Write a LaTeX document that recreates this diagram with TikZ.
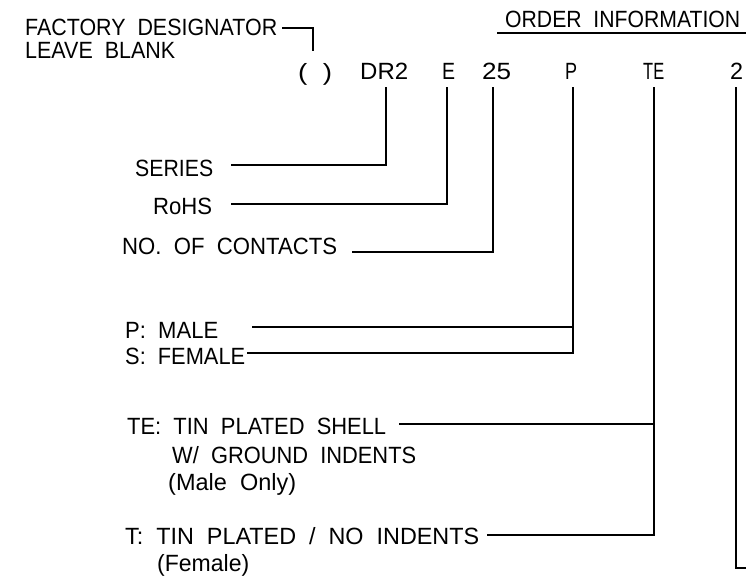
\documentclass[tikz,border=0pt]{standalone}
\usepackage{fontspec}
\setmainfont{Liberation Sans}
\usepackage{graphicx}
\newcommand{\fw}[2]{\resizebox{#1pt}{\height}{#2}}
\begin{document}
\begin{tikzpicture}[x=1pt,y=-1pt,
  lbl/.style={anchor=base west,inner sep=0pt,font=\fontsize{23.5}{27}\selectfont},
  wire/.style={line width=1.8pt,line cap=rect}]
\useasboundingbox (0,0) rectangle (746,578);
\fill[white] (0,0) rectangle (746,578);
% top labels
\node[lbl] (fd) at (25,36) {\fw{252}{FACTORY\ \ DESIGNATOR}};
\node[lbl] (lb) at (25,59) {\fw{150}{LEAVE\ \ BLANK}};
\node[lbl] (oi) at (505,28) {\fw{235}{ORDER\ \ INFORMATION}};
% part number
\node[lbl] (par) at (298,80) {\fw{34}{(\ \ )}};
\node[lbl] (dr2) at (360,80) {\fw{48}{DR2}};
\node[lbl] (e) at (442,80) {\fw{13}{E}};
\node[lbl] (n25) at (482,80) {\fw{29}{25}};
\node[lbl] (p) at (565,80) {\fw{12}{P}};
\node[lbl] (te) at (643,80) {\fw{21}{TE}};
\node[lbl] (two) at (730,80) {\fw{13}{2}};
% descriptions
\node[lbl] (series) at (135,176) {\fw{78}{SERIES}};
\node[lbl] (rohs) at (153,214) {\fw{59}{RoHS}};
\node[lbl] (noc) at (122,254) {\fw{215}{NO.\ \ OF\ \ CONTACTS}};
\node[lbl] (male) at (125,338) {\fw{93}{P:\ \ MALE}};
\node[lbl] (female) at (125,364) {\fw{120}{S:\ \ FEMALE}};
\node[lbl] (tea) at (127,434) {\fw{259}{TE:\ \ TIN\ \ PLATED\ \ SHELL}};
\node[lbl] (teb) at (172,463) {\fw{244}{W/\ \ GROUND\ \ INDENTS}};
\node[lbl] (tec) at (168,490) {\fw{128}{(Male\ \ Only)}};
\node[lbl] (ta) at (125,544) {\fw{354}{T:\ \ TIN\ \ PLATED\ \ /\ \ NO\ \ INDENTS}};
\node[lbl] (tb) at (157,571) {\fw{92}{(Female)}};
% connector coordinates
\coordinate (fdA) at (283,28);
\coordinate (fdB) at (313,50);
\coordinate (ulA) at (498,33);
\coordinate (ulB) at (746,33);
\coordinate (vDR2) at (386,88);
\coordinate (vE) at (447,88);
\coordinate (v25) at (493,88);
\coordinate (vP) at (573,88);
\coordinate (vTE) at (654,88);
\coordinate (v2) at (736,88);
\coordinate (sS) at (232,165);
\coordinate (sR) at (232,204);
\coordinate (sN) at (353,252);
\coordinate (sM) at (253,327);
\coordinate (sF) at (248,353);
\coordinate (sT1) at (400,424);
\coordinate (sT2) at (488,535);
\coordinate (end2) at (746,568);
% connectors
\draw[wire] (fdA) -| (fdB);
\draw[wire] (ulA) -- (ulB);
\draw[wire] (sS) -| (vDR2);
\draw[wire] (sR) -| (vE);
\draw[wire] (sN) -| (v25);
\draw[wire] (sM) -| (vP);
\draw[wire] (sF) -| (vP);
\draw[wire] (sT1) -| (vTE);
\draw[wire] (sT2) -| (vTE);
\draw[wire] (v2) |- (end2);
\end{tikzpicture}
\end{document}
